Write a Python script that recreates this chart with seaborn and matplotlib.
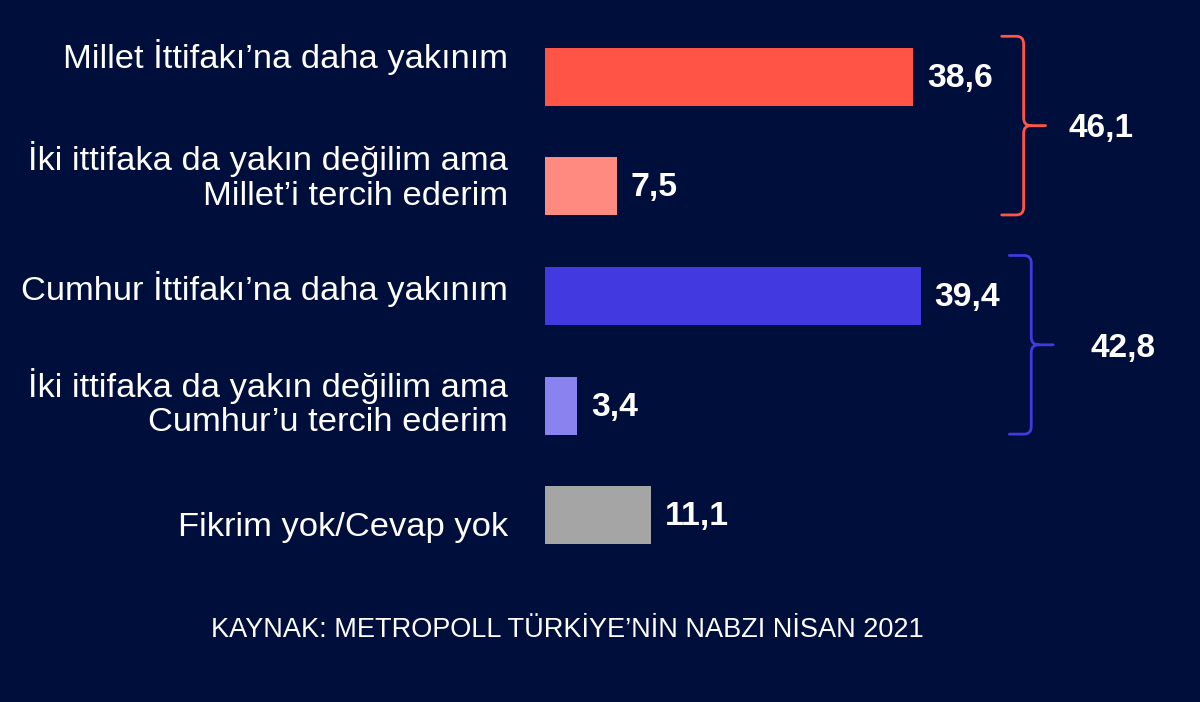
import matplotlib
matplotlib.use("Agg")
import matplotlib.pyplot as plt
from matplotlib.path import Path
from matplotlib.patches import PathPatch
import seaborn as sns
import pandas as pd

# ---- data ----
categories = [
    "Millet İttifakı’na daha yakınım",
    "İki ittifaka da yakın değilim ama\nMillet’i tercih ederim",
    "Cumhur İttifakı’na daha yakınım",
    "İki ittifaka da yakın değilim ama\nCumhur’u tercih ederim",
    "Fikrim yok/Cevap yok",
]
values = [38.6, 7.5, 39.4, 3.4, 11.1]
bar_colors = ["#FF5446", "#FF8B80", "#4239E1", "#8A82EE", "#A5A5A5"]
groups = [[0, 1], [2, 3]]          # bracketed groups (bar indices)
group_colors = ["#FF5446", "#4239E1"]
source_text = "KAYNAK: METROPOLL TÜRKİYE’NİN NABZI NİSAN 2021"

# ---- style ----
BG = "#000E3C"
sns.set_theme(style="white")
plt.rcParams["font.family"] = ["Liberation Sans", "DejaVu Sans"]

fig = plt.figure(figsize=(12, 7.02), dpi=100, facecolor=BG)
ax = fig.add_axes([0.4542, 0.188, 0.5458, 0.7806])
ax.set_facecolor(BG)

df = pd.DataFrame({"cat": categories, "val": values})
sns.barplot(data=df, x="val", y="cat", hue="cat", palette=bar_colors,
            legend=False, orient="h", width=0.53, saturation=1,
            linewidth=0, ax=ax)

ax.set_xlim(0, 68.7)
ax.set_ylim(4.5, -0.5)
ax.set_xlabel("")
ax.set_ylabel("")
ax.set_xticks([])
ax.set_yticks([])
for s in ax.spines.values():
    s.set_visible(False)

# category labels (right-aligned left of the bars)
label_dy = [14, 7, 5, 2, -9]   # small vertical nudges in points
for i, cat in enumerate(categories):
    ax.annotate(cat, xy=(0, i), xycoords="data",
                xytext=(-26.5, label_dy[i]), textcoords="offset points",
                ha="right", va="center", color="white", fontsize=24.8,
                linespacing=1.15, annotation_clip=False)

# value labels
for i, v in enumerate(values):
    ax.annotate(f"{v:.1f}".replace(".", ","), xy=(v, i), xycoords="data",
                xytext=(10, -1), textcoords="offset points",
                ha="left", va="center", color="white", fontsize=24.3,
                fontweight="bold", annotation_clip=False)

# brackets with group totals
bracket_offset = 11.6
stub = 2.3
tip = 2.3
rx, ry = 0.75, 0.07
label_gap = [2.4, 3.9]
for g, (idx, col) in enumerate(zip(groups, group_colors)):
    xv = max(values[k] for k in idx) + bracket_offset
    yt = idx[0] - 0.37
    yb = idx[-1] + 0.26
    ym = (yt + yb) / 2
    xl = xv - stub
    xt = xv + tip
    verts = [
        (xl, yt), (xv - rx, yt), (xv, yt), (xv, yt + ry),
        (xv, ym - ry), (xv, ym), (xv + rx, ym), (xt, ym),
        (xv + rx, ym), (xv, ym), (xv, ym + ry),
        (xv, yb - ry), (xv, yb), (xv - rx, yb), (xl, yb),
    ]
    codes = [
        Path.MOVETO, Path.LINETO, Path.CURVE3, Path.CURVE3,
        Path.LINETO, Path.CURVE3, Path.CURVE3, Path.LINETO,
        Path.MOVETO, Path.CURVE3, Path.CURVE3,
        Path.LINETO, Path.CURVE3, Path.CURVE3, Path.LINETO,
    ]
    ax.add_patch(PathPatch(Path(verts, codes), fill=False, edgecolor=col,
                           lw=2.0, capstyle="round", joinstyle="round",
                           clip_on=False))
    total = sum(values[k] for k in idx)
    ax.text(xt + label_gap[g], ym + 0.03, f"{total:.1f}".replace(".", ","),
            ha="left", va="center", color="white", fontsize=24,
            fontweight="bold", clip_on=False)

fig.text(0.4725, 0.103, source_text, ha="center", va="center",
         color="white", fontsize=19.5)

fig.savefig("out.png", dpi=100, facecolor=BG)
